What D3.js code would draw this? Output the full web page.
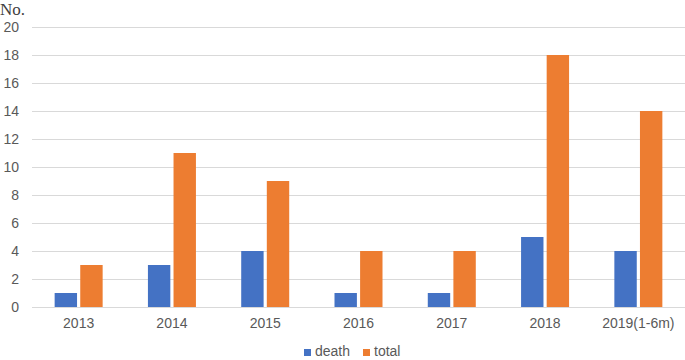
<!DOCTYPE html>
<html>
<head>
<meta charset="utf-8">
<script src="https://cdn.jsdelivr.net/npm/d3@7"></script>
<style>
  body { margin: 0; background: #fff; }
  svg { display: block; font-family: "Liberation Sans", Arial, sans-serif; }
  .tick text { fill: #595959; font-size: 14px; }
</style>
</head>
<body>
<div id="chart"></div>
<script>
const years = ['2013', '2014', '2015', '2016', '2017', '2018', '2019(1-6m)'];
const death = [1, 3, 4, 1, 1, 5, 4];
const total = [3, 11, 9, 4, 4, 18, 14];
const seriesNames = ['death', 'total'];
const seriesColors = ['#4472C4', '#ED7D31'];
const yTicks = [0, 2, 4, 6, 8, 10, 12, 14, 16, 18, 20];

let margin = {top: 27, right: 0, bottom: 53, left: 32};
let width = 685 - margin.left - margin.right;
let height = 360 - margin.top - margin.bottom;

let svg = d3.select('#chart').append('svg')
    .attr('width', 685)
    .attr('height', 360);

// axis title
svg.append('text')
    .attr('x', 0)
    .attr('y', 15)
    .style('font-family', '"Liberation Serif", "DejaVu Serif", serif')
    .style('font-size', '17px')
    .style('fill', '#404040')
    .text('No.');

let g = svg.append('g')
    .attr('transform', 'translate(' + margin.left + ',' + margin.top + ')');

let x = d3.scaleBand()
    .domain(years)
    .range([0, width]);

let xs = d3.scaleBand()
    .domain(seriesNames)
    .range([x.bandwidth() / 2 - 24, x.bandwidth() / 2 + 24])
    .paddingInner(6 / 48);

let y = d3.scaleLinear()
    .domain([0, 20])
    .range([height, 0]);

// gridlines + y labels
let yAxis = g.append('g')
    .call(d3.axisLeft(y).tickValues(yTicks).tickSize(-width).tickPadding(13));
yAxis.select('.domain').remove();
yAxis.selectAll('.tick line')
    .attr('stroke', '#d9d9d9');

// bars
let rows = years.map(function(yr, i) {
    return {year: yr, values: [death[i], total[i]]};
});

let groups = g.selectAll('.year')
    .data(rows)
    .enter().append('g')
    .attr('transform', function(d) { return 'translate(' + x(d.year) + ',0)'; });

groups.selectAll('rect')
    .data(function(d) { return d.values.map(function(v, j) { return {name: seriesNames[j], value: v}; }); })
    .enter().append('rect')
    .attr('x', function(d) { return xs(d.name); })
    .attr('width', xs.bandwidth())
    .attr('y', function(d) { return y(d.value); })
    .attr('height', function(d) { return height - y(d.value); })
    .attr('fill', function(d, j) { return seriesColors[j]; });

// x axis
let xAxis = g.append('g')
    .attr('transform', 'translate(0,' + height + ')')
    .call(d3.axisBottom(x).tickSize(0).tickPadding(11));
xAxis.select('.domain').attr('stroke', '#d9d9d9');

// legend
let legend = svg.append('g')
    .attr('transform', 'translate(304,349)');
let items = [{name: 'death', x: 0}, {name: 'total', x: 59}];
items.forEach(function(it, i) {
    legend.append('rect')
        .attr('x', it.x)
        .attr('y', 0)
        .attr('width', 7)
        .attr('height', 7)
        .attr('fill', seriesColors[i]);
    legend.append('text')
        .attr('x', it.x + 11)
        .attr('y', 7)
        .style('font-size', '14px')
        .style('fill', '#595959')
        .text(it.name);
});
</script>
</body>
</html>
